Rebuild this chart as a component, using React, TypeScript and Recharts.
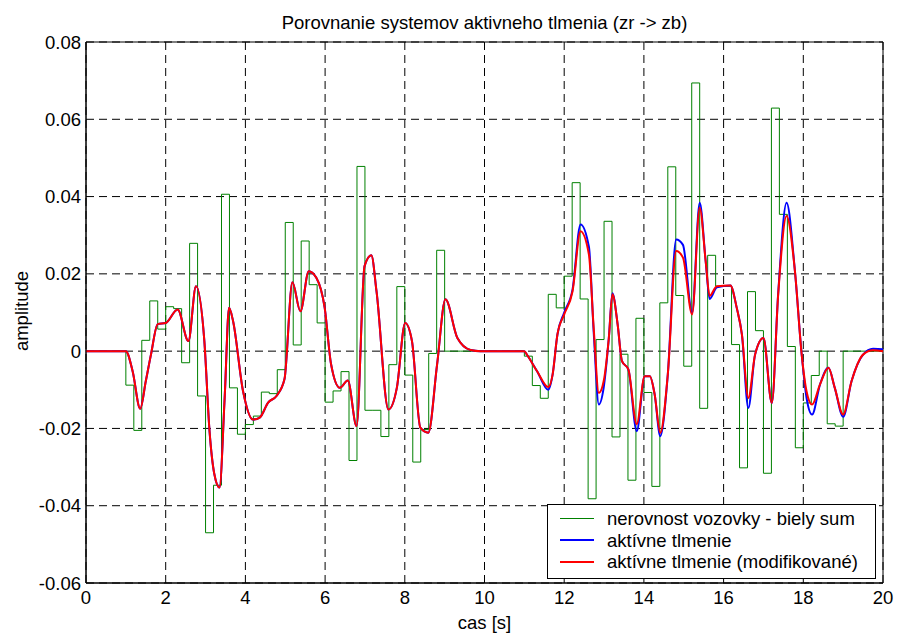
import React from 'react';
import {
  LineChart, Line, XAxis, YAxis, CartesianGrid, ReferenceArea, Legend,
} from 'recharts';

// ---------- data ----------
const chartTitle = 'Porovnanie systemov aktivneho tlmenia (zr -> zb)';
const xLabel = 'cas [s]';
const yLabel = 'amplitude';
const seriesNames = [
  'nerovnost vozovky - biely sum',
  'aktívne tlmenie',
  'aktívne tlmenie (modifikované)',
];

const xTicks = [0, 2, 4, 6, 8, 10, 12, 14, 16, 18, 20];
const yTicks = [-0.06, -0.04, -0.02, 0, 0.02, 0.04, 0.06, 0.08];
const yTickLabels = ['-0.06', '-0.04', '-0.02', '0', '0.02', '0.04', '0.06', '0.08'];

// road roughness: zero-order-hold white noise, sampled every 0.2 s from t = 1.0 s
const noiseStart = 1.0;
const noiseStep = 0.2;
const noiseValues = [
  -0.0088, -0.0205, 0.0028, 0.013, 0.0057, 0.0115, 0.011, -0.003, 0.0279, -0.0116,
  -0.047, -0.0347, 0.0406, -0.0095, -0.0215, -0.019, -0.0168, -0.0106, -0.011, -0.0048,
  0.0333, 0.0016, 0.0285, 0.0172, 0.0073, -0.0132, -0.0103, -0.0053, -0.0283, 0.0478,
  -0.0153, -0.0153, -0.0221, -0.0035, 0.0167, -0.0062, -0.0287, -0.0203, -0.0006, 0.0261,
  0, 0, 0, 0, 0, 0, 0, 0, 0, 0,
  -0.0013, -0.0089, -0.0122, 0.0147, 0.0112, 0.0194, 0.0436, 0.0135, -0.0382, 0.003,
  0.0336, -0.0222, -0.0008, -0.0334, 0.0085, -0.0107, -0.035, 0.0125, 0.0477, 0.0144,
  -0.0039, 0.0694, -0.0148, 0.0248, 0.0168, 0.0168, 0.0017, -0.0302, 0.0154, 0.0053,
  -0.0316, 0.0629, 0.0354, 0.0012, -0.025, -0.0134, -0.0063, 0, -0.0188, -0.0194,
  0,
];

// body response time samples
const responseT = [
  0, 1.0, 1.17, 1.36, 1.5, 1.63, 1.8, 2.0, 2.3, 2.57,
  2.76, 2.97, 3.1, 3.22, 3.35, 3.48, 3.59, 3.69, 3.94, 4.19,
  4.36, 4.57, 4.78, 4.98, 5.18, 5.38, 5.59, 5.78, 5.99, 6.15,
  6.37, 6.57, 6.79, 6.99, 7.16, 7.29, 7.59, 7.8, 8.01, 8.18,
  8.39, 8.59, 8.81, 9.02, 9.32, 9.65, 9.9, 11.0, 11.07, 11.32,
  11.6, 11.71, 11.83, 12.0, 12.21, 12.41, 12.62, 12.74, 12.87, 12.99,
  13.12, 13.21, 13.34, 13.45, 13.61, 13.82, 14.02, 14.15, 14.27, 14.41,
  14.6, 14.81, 14.98, 15.21, 15.4, 15.55, 15.65, 15.83, 16.17, 16.33,
  16.46, 16.62, 16.79, 17.0, 17.21, 17.37, 17.58, 17.79, 17.96, 18.08,
  18.22, 18.42, 18.63, 18.79, 19.0, 19.21, 19.5, 19.75, 20.0,
];

const activeValues = [
  0, 0, -0.0052, -0.0149, -0.0078, -0.0009, 0.007, 0.0073, 0.0108, 0.0026,
  0.0168, 0.0026, -0.0207, -0.0318, -0.0353, -0.012, 0.0112, 0.0078, -0.0103, -0.0177,
  -0.0172, -0.0133, -0.0116, -0.0073, 0.0178, 0.0103, 0.0207, 0.019, 0.0112, -0.0034,
  -0.0095, -0.0076, -0.0194, 0.022, 0.0248, 0.0155, -0.0151, -0.0095, 0.0073, 0.0026,
  -0.0198, -0.0211, -0.0035, 0.0134, 0.0034, 0.0003, 0, 0, -0.001, -0.0052,
  -0.01, -0.006, 0.0043, 0.01, 0.016, 0.0328, 0.027, 0.005, -0.0138, -0.0095,
  0.0034, 0.015, 0.007, -0.0026, -0.0047, -0.0207, -0.0065, -0.0065, -0.0112, -0.022,
  -0.006, 0.0289, 0.0275, 0.01, 0.0384, 0.0233, 0.0135, 0.0165, 0.017, 0.0112,
  0.0043, -0.0147, -0.0009, 0.0034, -0.0134, 0.015, 0.0384, 0.0207, -0.0009, -0.012,
  -0.0164, -0.0086, -0.0043, -0.0095, -0.017, -0.0078, -0.0009, 0.0006, 0.0005,
];

const modifiedValues = [
  0, 0, -0.0052, -0.0149, -0.0078, -0.0009, 0.007, 0.0073, 0.0108, 0.0026,
  0.0168, 0.0026, -0.0207, -0.0318, -0.0353, -0.012, 0.0112, 0.0078, -0.0103, -0.0177,
  -0.0172, -0.0133, -0.0116, -0.0073, 0.0178, 0.0103, 0.0207, 0.019, 0.0112, -0.0034,
  -0.0095, -0.0076, -0.0194, 0.022, 0.0248, 0.0155, -0.0151, -0.0095, 0.0073, 0.0026,
  -0.0198, -0.0211, -0.0035, 0.0134, 0.0034, 0.0003, 0, 0, -0.001, -0.0052,
  -0.0093, -0.006, 0.0043, 0.0095, 0.0155, 0.031, 0.025, 0.006, -0.0108, -0.0078,
  0.0034, 0.0147, 0.007, -0.0026, -0.0047, -0.0189, -0.0065, -0.0065, -0.0112, -0.0211,
  -0.006, 0.0259, 0.0242, 0.0095, 0.0371, 0.0233, 0.0143, 0.0168, 0.017, 0.0112,
  0.0043, -0.0121, -0.0009, 0.0034, -0.0134, 0.0147, 0.035, 0.0207, -0.0009, -0.0103,
  -0.0138, -0.0086, -0.0043, -0.0095, -0.0164, -0.0078, -0.0009, 0.0002, 0,
];

// ---------- derived tables ----------
const noiseData = [
  { t: 0, v: 0 },
  ...noiseValues.map((v, i) => ({ t: Math.round((noiseStart + i * noiseStep) * 100) / 100, v })),
  { t: 20, v: 0 },
];
const activeData = responseT.map((t, i) => ({ t, v: activeValues[i] }));
const modifiedData = responseT.map((t, i) => ({ t, v: modifiedValues[i] }));

const FONT = '"Liberation Sans", Arial, sans-serif';
const FS = 18.5;
const colors = ['#008000', '#0000ff', '#ff0000'];

const LegendBox = () => (
  <div
    style={{
      width: 327,
      height: 70,
      border: '1px solid #000',
      background: '#fff',
      fontFamily: FONT,
      fontSize: FS,
      color: '#000',
      boxSizing: 'content-box',
      paddingTop: 3,
    }}
  >
    {seriesNames.map((name, i) => (
      <div key={name} style={{ display: 'flex', alignItems: 'center', height: 21.5 }}>
        <div style={{ width: 34, height: i === 0 ? 1 : 2, background: colors[i], marginLeft: 12, marginRight: 13 }} />
        <span style={{ whiteSpace: 'nowrap', lineHeight: '21px' }}>{name}</span>
      </div>
    ))}
  </div>
);

export default function App() {
  return (
    <div style={{ position: 'fixed', left: 0, top: 0, width: 898, height: 633, background: '#fff' }}>
      <div
        style={{
          position: 'absolute', left: 86, width: 797, top: 12, textAlign: 'center',
          fontFamily: FONT, fontSize: FS, lineHeight: '22px', color: '#000',
        }}
      >
        {chartTitle}
      </div>
      <LineChart
        width={898}
        height={633}
        margin={{ top: 42, right: 15, bottom: 0, left: 0 }}
        style={{ fontFamily: FONT }}
      >
        <CartesianGrid stroke="#000" strokeDasharray="8 5" strokeWidth={1} />
        <XAxis
          dataKey="t"
          type="number"
          domain={[0, 20]}
          ticks={xTicks}
          allowDuplicatedCategory={false}
          height={50}
          tickLine={false}
          tickSize={2}
          tickMargin={6}
          axisLine={{ stroke: '#000' }}
          tick={{ fill: '#000', fontSize: FS, fontFamily: FONT }}
          label={{ value: xLabel, position: 'insideBottom', offset: 4, fill: '#000', fontSize: FS, fontFamily: FONT }}
        />
        <YAxis
          type="number"
          domain={[-0.06, 0.08]}
          ticks={yTicks}
          width={86}
          tickLine={false}
          tickSize={3}
          tickMargin={2}
          axisLine={{ stroke: '#000' }}
          tickFormatter={(v: number) => yTickLabels[yTicks.findIndex((y) => Math.abs(y - v) < 1e-9)] ?? String(v)}
          tick={{ fill: '#000', fontSize: FS, fontFamily: FONT }}
          label={(props: any) => (
            <text
              x={21}
              y={311}
              transform="rotate(-90 21 311)"
              textAnchor="middle"
              dominantBaseline="central"
              fill="#000"
              fontSize={FS}
              fontFamily={FONT}
            >
              {yLabel}
            </text>
          )}
        />
        <ReferenceArea x1={0} x2={20} y1={-0.06} y2={0.08} fill="none" stroke="#000" strokeWidth={1} ifOverflow="visible" />
        <Line
          data={noiseData}
          dataKey="v"
          name={seriesNames[0]}
          type="stepAfter"
          stroke={colors[0]}
          strokeWidth={1}
          dot={false}
          activeDot={false}
          isAnimationActive={false}
        />
        <Line
          data={activeData}
          dataKey="v"
          name={seriesNames[1]}
          type="monotone"
          stroke={colors[1]}
          strokeWidth={2}
          dot={false}
          activeDot={false}
          isAnimationActive={false}
        />
        <Line
          data={modifiedData}
          dataKey="v"
          name={seriesNames[2]}
          type="monotone"
          stroke={colors[2]}
          strokeWidth={2}
          dot={false}
          activeDot={false}
          isAnimationActive={false}
        />
        <Legend
          layout="vertical"
          align="center"
          verticalAlign="middle"
          content={() => <LegendBox />}
          wrapperStyle={{ position: 'absolute', left: 547, top: 504, width: 329, height: 74 }}
        />
      </LineChart>
    </div>
  );
}
